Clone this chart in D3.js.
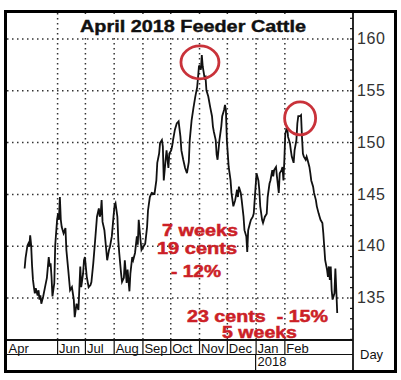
<!DOCTYPE html>
<html><head><meta charset="utf-8">
<script src="https://cdn.jsdelivr.net/npm/d3@7"></script>
<style>body{margin:0;background:#fff}svg{display:block}text{white-space:pre}</style>
</head><body>
<script>
// ---- data ----
const title = "April 2018 Feeder Cattle";
// days since 2017-04-01
const days = [26,27,28,29,30,31,32,33,34,35,36,37,38,40,41,42,43,44,46,48,50,52,53,54,55,56,58,59,61,62,63,64,65,66,68,70,71,73,75,77,79,80,82,84,86,87,89,90,91,93,95,97,98,100,102,104,106,107,108,109,110,112,114,115,117,118,120,122,123,124,126,127,128,130,131,133,134,136,137,139,140,142,143,145,147,148,149,151,152,154,156,158,159,161,163,166,168,169,171,172,174,175,176,178,179,181,182,184,185,186,188,190,192,194,195,197,199,201,203,204,206,208,210,212,213,214,216,217,218,220,221,222,224,226,228,229,230,232,233,234,236,238,239,241,242,243,244,246,248,249,251,253,255,256,257,259,260,262,263,265,266,267,269,270,272,273,275,276,278,279,280,282,283,285,287,288,290,291,293,294,295,297,298,300,301,303,304,305,306,307,309,310,312,313,314,316,317,319,320,321,323,324,325,326,327,329,330,331,333,334,335,337,338,340,341,343,344,345,347,348,349,350,352,353,354,355,356,357,358,360,361,362,363];
const prices = [137.8,138.8,139.4,140.0,140.2,139.9,141.0,140.1,138.1,136.7,136.0,135.4,135.9,135.2,135.7,134.8,135.2,134.4,135.1,136.0,136.9,138.9,138.0,138.3,137.0,135.1,136.4,140.1,142.5,143.1,142.5,144.7,142.5,141.8,141.2,141.7,139.6,137.7,135.7,136.0,134.8,133.1,134.4,133.8,138.0,136.0,137.3,138.6,138.9,137.0,136.0,136.2,136.5,138.3,140.5,142.8,143.6,142.8,143.1,144.4,142.3,141.5,139.6,138.6,139.6,139.9,140.9,143.0,143.9,144.1,142.8,140.5,139.3,137.3,136.5,136.9,138.6,136.4,137.7,135.6,137.3,138.9,138.6,139.3,140.9,140.1,142.5,140.5,139.6,139.9,140.2,141.8,143.4,144.7,145.1,145.0,146.3,148.0,148.9,149.9,150.2,149.6,146.3,148.3,149.2,147.5,148.9,149.2,149.6,150.2,151.2,151.8,152.0,150.5,149.2,148.3,147.5,147.0,148.1,150.2,152.1,153.3,154.4,155.3,156.3,157.4,157.0,158.4,157.3,156.2,156.3,155.0,154.4,153.4,152.5,151.5,151.0,150.2,148.8,148.3,150.2,151.5,152.5,153.1,153.6,153.1,150.2,147.6,146.3,145.1,143.8,144.4,145.4,144.7,145.7,145.1,144.4,142.8,141.5,140.9,139.4,141.5,142.2,142.5,142.8,143.1,145.7,147.0,146.3,145.4,143.8,142.5,142.2,142.8,143.1,144.7,146.0,146.3,147.3,146.7,147.3,147.6,146.7,145.1,147.0,147.3,147.6,146.3,148.3,150.8,151.5,150.5,149.9,149.2,148.6,148.0,149.2,150.2,151.8,152.5,152.5,152.6,150.5,148.9,148.6,148.3,148.6,148.3,147.6,147.0,146.3,145.7,145.1,144.4,143.8,143.1,142.8,142.5,142.2,141.2,139.9,138.6,137.7,137.0,138.0,136.7,138.0,135.7,134.8,135.4,137.8,135.7,133.5];
const yTicks = [135,140,145,150,155,160];
const monthStarts = ["2017-06-01","2017-07-01","2017-08-01","2017-09-01","2017-10-01","2017-11-01","2017-12-01","2018-01-01","2018-02-01"];
const monthLabels = ["Apr","Jun","Jul","Aug","Sep","Oct","Nov","Dec","Jan","Feb"];
const yearLabel = "2018";
const yearStart = "2018-01-01";
const notes1 = ["7 weeks","19 cents","- 12%"];
const notes2 = ["23 cents  - 15%","5 weeks"];
const peaks = [["2017-11-02",157.7],["2018-02-18",152.3]];

// ---- layout ----
const W = 401, H = 380;
const L = 7, R = 353, T = 13, B = 340;
const base = Date.UTC(2017,3,1);
const toDate = d => new Date(base + d*864e5);
const parse = s => new Date(s + "T00:00:00Z");
const FONT = "Liberation Sans, Arial, sans-serif";

const svg = d3.select("body").append("svg").attr("width",W).attr("height",H);
const x = d3.scaleUtc().domain([Date.UTC(2017,3,8), Date.UTC(2018,3,16)]).range([L,R]);
const y = d3.scaleLinear().domain([130.9,162.56]).range([B,12]);

const dot = "1.5,3.5";
// horizontal grid
svg.append("g").attr("transform",`translate(${L},0)`)
  .call(d3.axisRight(y).tickValues(yTicks).tickSize(R-L).tickFormat(""))
  .call(g=>g.select(".domain").remove())
  .selectAll("line").attr("stroke","#333").attr("stroke-width",1.5).attr("stroke-dasharray",dot);
// vertical grid
const mDates = monthStarts.map(parse);
svg.append("g").attr("transform",`translate(0,${T})`)
  .call(d3.axisBottom(x).tickValues(mDates).tickSize(B-T).tickFormat(""))
  .call(g=>g.select(".domain").remove())
  .selectAll("line").attr("stroke","#333").attr("stroke-width",1.5).attr("stroke-dasharray",dot);

// title background & title
svg.append("rect").attr("x",62).attr("y",14).attr("width",262).attr("height",23).attr("fill","#fff");
svg.append("text").attr("x",80).attr("y",32).attr("textLength",226).attr("lengthAdjust","spacingAndGlyphs")
  .attr("font-family",FONT).attr("font-weight","bold").attr("font-size",16.5)
  .attr("fill","#111").attr("stroke","#111").attr("stroke-width",0.4).text(title);

// price line
const line = d3.line().x((d,i)=>x(toDate(days[i]))).y(d=>y(d));
svg.append("path").datum(prices).attr("d",line).attr("fill","none").attr("stroke","#111").attr("stroke-width",1.8).attr("stroke-linejoin","miter");

// red circles
svg.selectAll("ellipse.pk").data(peaks).join("ellipse").attr("class","pk")
  .attr("cx",d=>x(parse(d[0]))).attr("cy",d=>y(d[1]))
  .attr("rx",(d,i)=>i?15.5:19).attr("ry",(d,i)=>i?16.5:16.5)
  .attr("fill","none").attr("stroke","#c9323a").attr("stroke-width",2.8);

// red notes
const redFont = g => g.attr("font-family",FONT).attr("font-weight","bold").attr("font-size",16).attr("fill","#cc1f27")
  .attr("stroke","#cc1f27").attr("stroke-width",0.5).attr("lengthAdjust","spacingAndGlyphs");
const n1 = [[162,235.5,76],[157,254,80],[171,276.5,50]];
notes1.forEach((t,i)=>svg.append("text").attr("x",n1[i][0]).attr("y",n1[i][1]).attr("textLength",n1[i][2]).call(redFont).text(t));
const n2 = [[187,321.5,141],[222,337.5,75]];
notes2.forEach((t,i)=>svg.append("text").attr("x",n2[i][0]).attr("y",n2[i][1]).attr("textLength",n2[i][2]).call(redFont).text(t));

// x axis strip
svg.append("rect").attr("x",L).attr("y",B).attr("width",R-L).attr("height",30).attr("fill","#fff");
svg.append("line").attr("x1",L).attr("x2",R).attr("y1",B).attr("y2",B).attr("stroke","#111").attr("stroke-width",1.8);
svg.append("line").attr("x1",L).attr("x2",R).attr("y1",354.5).attr("y2",354.5).attr("stroke","#111").attr("stroke-width",1.2);
svg.append("g").attr("transform",`translate(0,${B})`)
  .call(d3.axisBottom(x).tickValues(mDates).tickSize(14.5).tickFormat(""))
  .call(g=>g.select(".domain").remove())
  .selectAll("line").attr("stroke","#111").attr("stroke-width",1.2);
const labDates = [x.domain()[0], ...mDates];
svg.append("g").selectAll("text").data(monthLabels).join("text")
  .attr("x",(d,i)=> i===0 ? 8.5 : x(labDates[i])+2).attr("y",352.5)
  .attr("font-family",FONT).attr("font-size",13).attr("fill","#111").text(d=>d);
svg.append("line").attr("x1",x(parse(yearStart))).attr("x2",x(parse(yearStart))).attr("y1",354).attr("y2",370).attr("stroke","#111").attr("stroke-width",1.2);
svg.append("text").attr("x",x(parse(yearStart))+2).attr("y",366).attr("font-family",FONT).attr("font-size",13).attr("fill","#111").text(yearLabel);

// right axis
svg.append("line").attr("x1",R).attr("x2",R).attr("y1",T).attr("y2",370).attr("stroke","#111").attr("stroke-width",1.8);
svg.append("g").attr("transform",`translate(${R},0)`)
  .call(d3.axisLeft(y).tickValues(d3.range(131,163)).tickSize(3).tickFormat(""))
  .call(g=>g.select(".domain").remove())
  .selectAll("line").attr("stroke","#111").attr("stroke-width",1.2);
svg.append("g").attr("transform",`translate(${R},0)`)
  .call(d3.axisRight(y).tickValues(yTicks).tickSize(0).tickPadding(4))
  .call(g=>g.select(".domain").remove())
  .selectAll("text").attr("font-family",FONT).attr("font-size",16).attr("fill","#333").attr("letter-spacing","0.6px");
svg.append("text").attr("x",360).attr("y",358.5).attr("font-family",FONT).attr("font-size",13).attr("fill","#111").text("Day");

// frame
svg.append("rect").attr("x",5.5).attr("y",11.5).attr("width",390).attr("height",360).attr("fill","none").attr("stroke","#000").attr("stroke-width",3);
</script>
</body></html>
